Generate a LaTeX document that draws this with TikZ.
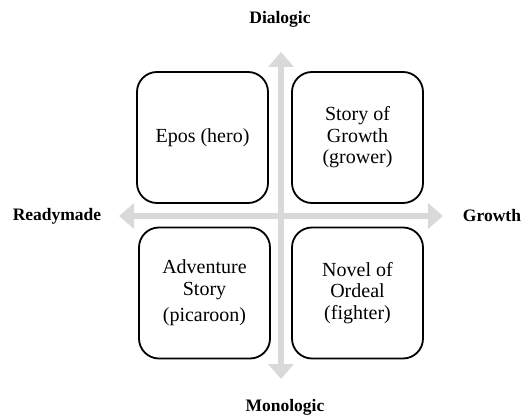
\documentclass[tikz,border=0pt]{standalone}
\usepackage{fontspec}
\setmainfont{Liberation Serif}
\usetikzlibrary{arrows.meta}
\begin{document}
\begin{tikzpicture}[x=1pt,y=-1pt,
  quad/.style={draw=black,line width=1.8pt,rounded corners=20pt,fill=white,
    minimum width=131pt,minimum height=131pt,align=center,inner sep=0pt,
    font=\fontsize{20}{21.5}\selectfont},
  axislabel/.style={font=\fontsize{17.5}{20}\selectfont\bfseries,inner sep=0pt},
  axis/.style={draw=black!15,line width=6pt,
    {Triangle[width=25pt,length=15pt]}-{Triangle[width=25pt,length=15pt]}}]
\useasboundingbox (0,0) rectangle (531,417);
\coordinate (top) at (281,52);
\coordinate (bot) at (281,379);
\coordinate (lft) at (119,216);
\coordinate (rgt) at (443,216);
\draw[axis] (top) -- (bot);
\draw[axis] (lft) -- (rgt);
\node[quad] (epos) at (202.5,137.5) {Epos (hero)};
\node[quad] (growth) at (357.5,137.5) {Story of\\Growth\\(grower)};
\node[quad] (adv) at (204.5,293) {Adventure\\Story\\[5pt](picaroon)};
\node[quad] (ordeal) at (357.5,293) {Novel of\\Ordeal\\(fighter)};
\node[axislabel] (dia) at (280,19) {Dialogic};
\node[axislabel] (mono) at (285,407) {Monologic};
\node[axislabel] (ready) at (57,216) {Readymade};
\node[axislabel] (grow) at (492,216) {Growth};
\end{tikzpicture}
\end{document}
